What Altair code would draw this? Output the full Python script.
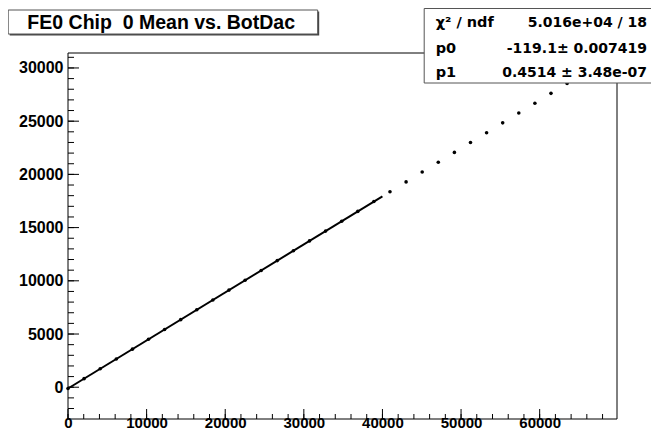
import altair as alt
import pandas as pd

# ---- data ----
bot_dac = [0, 2048, 4096, 6144, 8192, 10240, 12288, 14336, 16384, 18432,
           20480, 22528, 24576, 26624, 28672, 30720, 32768, 34816, 36864, 38912,
           40960, 43008, 45056, 47104, 49152, 51200, 53248, 55296, 57344, 59392,
           61440, 63488]
mean_vals = [-119, 805, 1730, 2654, 3579, 4503, 5428, 6352, 7277, 8201,
             9126, 10050, 10975, 11899, 12824, 13748, 14672, 15597, 16521, 17446,
             18370, 19295, 20219, 21144, 22068, 22993, 23917, 24842, 25766, 26691,
             27615, 28540]
fit_p0 = -119.1
fit_p1 = 0.4514
fit_range = [0, 40000]

x_major = [0, 10000, 20000, 30000, 40000, 50000, 60000]
x_minor = [v for v in range(0, 70000, 2000)]
y_major = [0, 5000, 10000, 15000, 20000, 25000, 30000]
y_minor = [v for v in range(-2000, 32000, 1000)]

title_text = "FE0 Chip \u00a00 Mean vs. BotDac"
stat_labels = ["χ² / ndf", "p0", "p1"]
stat_values = ["5.016e+04 / 18", "-119.1± 0.007419", "0.4514 ± 3.48e-07"]

X_DOMAIN = [0, 69837]
Y_DOMAIN = [-2985, 31406]
W, H = 549, 366
FONT = "Liberation Sans"
SFONT = "DejaVu Sans"

pts = pd.DataFrame({"x": bot_dac, "y": mean_vals})
fit = pd.DataFrame({"x": fit_range,
                    "y": [fit_p0 + fit_p1 * v for v in fit_range]})

xs = alt.Scale(domain=X_DOMAIN, nice=False, zero=False)
ys = alt.Scale(domain=Y_DOMAIN, nice=False, zero=False)

one = pd.DataFrame({"a": [0]})

# axes (labels only)
base_axes = alt.Chart(pts).mark_point(opacity=0).encode(
    x=alt.X("x:Q", scale=xs, title=None,
            axis=alt.Axis(values=x_major, format="d", ticks=False, tickSize=0,
                          domain=False, grid=False, labelFont=FONT,
                          labelFontWeight="bold", labelFontSize=15,
                          labelBaseline="alphabetic", labelPadding=8.5,
                          labelColor="black", labelFlush=False,
                          labelOverlap=False)),
    y=alt.Y("y:Q", scale=ys, title=None,
            axis=alt.Axis(values=y_major, format="d", ticks=False, tickSize=0,
                          domain=False, grid=False, labelFont=FONT,
                          labelFontWeight="bold", labelFontSize=16,
                          labelPadding=5, labelColor="black",
                          labelFlush=False, labelOverlap=False)),
)

frame = alt.Chart(one).mark_rect(fill=None, stroke="black", strokeWidth=1).encode(
    x=alt.value(0), x2=alt.value(W), y=alt.value(0), y2=alt.value(H))

xmaj = alt.Chart(pd.DataFrame({"t": x_major})).mark_rule(color="black", strokeWidth=1).encode(
    x=alt.X("t:Q", scale=xs), y=alt.value(H), y2=alt.value(H - 10))
xmin_ = alt.Chart(pd.DataFrame({"t": x_minor})).mark_rule(color="black", strokeWidth=1).encode(
    x=alt.X("t:Q", scale=xs), y=alt.value(H), y2=alt.value(H - 5))
ymaj = alt.Chart(pd.DataFrame({"t": y_major})).mark_rule(color="black", strokeWidth=1).encode(
    y=alt.Y("t:Q", scale=ys), x=alt.value(0), x2=alt.value(11))
ymin_ = alt.Chart(pd.DataFrame({"t": y_minor})).mark_rule(color="black", strokeWidth=1).encode(
    y=alt.Y("t:Q", scale=ys), x=alt.value(0), x2=alt.value(6))

points = alt.Chart(pts).mark_circle(color="black", size=13, opacity=1).encode(
    x=alt.X("x:Q", scale=xs), y=alt.Y("y:Q", scale=ys))
fitline = alt.Chart(fit).mark_line(color="black", strokeWidth=2).encode(
    x=alt.X("x:Q", scale=xs), y=alt.Y("y:Q", scale=ys))

# title box
tshadow = alt.Chart(one).mark_rect(fill="#444444").encode(
    x=alt.value(-58.3), x2=alt.value(251.2), y=alt.value(-41.5), y2=alt.value(-17.5))
tbox = alt.Chart(one).mark_rect(fill="white", stroke="#555555", strokeWidth=1).encode(
    x=alt.value(-59.8), x2=alt.value(249.7), y=alt.value(-43), y2=alt.value(-19))
ttext = alt.Chart(pd.DataFrame({"t": [title_text]})).mark_text(
    font=FONT, fontWeight="bold", fontSize=19.5, color="black",
    align="center", baseline="middle").encode(
    x=alt.value(93.2), y=alt.value(-30.5), text="t:N")

# stats box
sbox = alt.Chart(one).mark_rect(fill="white", stroke="#555555", strokeWidth=1).encode(
    x=alt.value(356.2), x2=alt.value(700), y=alt.value(-44.5), y2=alt.value(30))
slab = []
baselines = [-26.3, 0.3, 24.3]
for i in range(3):
    slab.append(alt.Chart(pd.DataFrame({"t": [stat_labels[i]]})).mark_text(
        font=SFONT, fontWeight="bold", fontSize=14.5, color="black",
        align="left", baseline="alphabetic").encode(
        x=alt.value(367.7), y=alt.value(baselines[i]), text="t:N"))
    slab.append(alt.Chart(pd.DataFrame({"t": [stat_values[i]]})).mark_text(
        font=SFONT, fontWeight="bold", fontSize=14, color="black",
        align="right", baseline="alphabetic").encode(
        x=alt.value(579), y=alt.value(baselines[i]), text="t:N"))

chart = alt.layer(
    base_axes, frame, xmin_, xmaj, ymin_, ymaj, fitline, points,
    tshadow, tbox, ttext, sbox, *slab
).properties(
    width=W, height=H,
    padding={"left": 60, "top": 45, "right": 34, "bottom": 12},
    autosize=alt.AutoSizeParams(type="none"),
    background="white",
).configure_view(stroke=None)

chart.save("out.html", embed_options={"renderer": "svg", "actions": False})
